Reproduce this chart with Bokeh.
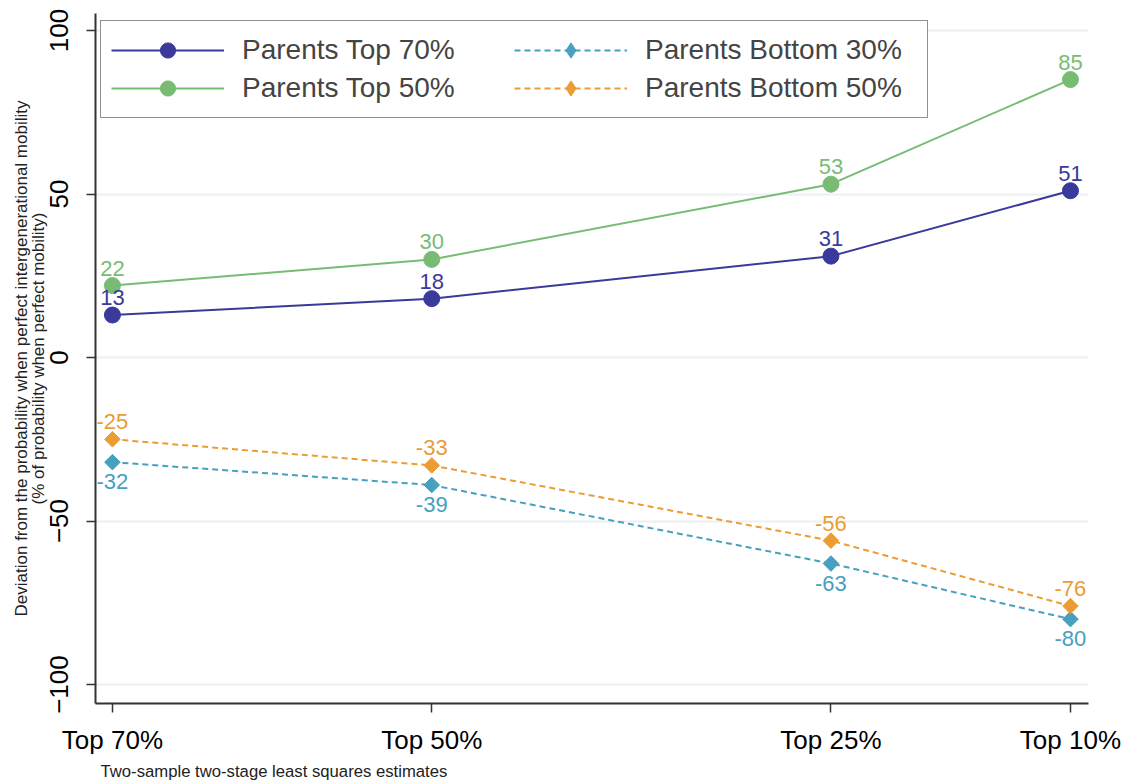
from bokeh.plotting import figure
from bokeh.models import (ColumnDataSource, Range1d, FixedTicker, LabelSet, Legend,
                          LegendItem, Title)
from bokeh.core.properties import value
from bokeh.embed import file_html
from bokeh.resources import INLINE
import math

# ---- data ----
x_groups = [70, 50, 25, 10]
x_labels = ["Top 70%", "Top 50%", "Top 25%", "Top 10%"]
top70 = [13, 18, 31, 51]
top50 = [22, 30, 53, 85]
bottom30 = [-32, -39, -63, -80]
bottom50 = [-25, -33, -56, -76]
y_ticks = [-100, -50, 0, 50, 100]

FONT = "Liberation Sans"
NAVY = "#3a3a9c"
GREEN = "#78bc74"
TEAL = "#47a0bf"
ORANGE = "#eb9c33"

p = figure(width=1129, height=782, output_backend="svg", toolbar_location=None,
           x_range=Range1d(71.06, 8.87), y_range=Range1d(-105.8, 105.2),
           min_border_left=95, min_border_right=41, min_border_top=13, min_border_bottom=79)
p.outline_line_color = None
p.background_fill_color = "white"
p.border_fill_color = "white"

# axes
p.xaxis.ticker = FixedTicker(ticks=x_groups)
p.xaxis.major_label_overrides = {v: l for v, l in zip(x_groups, x_labels)}
p.yaxis.ticker = FixedTicker(ticks=y_ticks)
for ax in (p.xaxis[0], p.yaxis[0]):
    ax.axis_line_color = "#333333"
    ax.axis_line_width = 2
    ax.major_tick_line_color = "#333333"
    ax.major_tick_line_width = 1.5
    ax.major_tick_out = 9
    ax.major_tick_in = 0
    ax.minor_tick_line_color = None
    ax.major_label_text_font = FONT
    ax.major_label_text_font_size = "26px"
    ax.major_label_text_color = "black"
    ax.axis_label_text_font = FONT
    ax.axis_label_text_font_style = "normal"
    ax.axis_label_text_color = "#222222"
p.yaxis.major_label_orientation = "vertical"
p.yaxis.major_label_standoff = 18
p.xaxis.major_label_standoff = 12
p.yaxis.axis_label = ("Deviation from the probability when perfect intergenerational mobility\n"
                      "(% of probability when perfect mobility)")
p.yaxis.axis_label_text_font_size = "17px"
p.yaxis.axis_label_text_line_height = 0.87
p.yaxis.axis_label_standoff = 0

p.xgrid.grid_line_color = None
p.ygrid.grid_line_color = "#edf0f2"
p.ygrid.grid_line_width = 2

p.add_layout(Title(text="Two-sample two-stage least squares estimates", align="left",
                   text_font=FONT, text_font_size="16.7px", text_font_style="normal",
                   text_color="#222222", offset=5, standoff=4), "below")

src = ColumnDataSource(dict(x=x_groups, top70=top70, top50=top50,
                            bottom30=bottom30, bottom50=bottom50,
                            l70=[str(v) for v in top70], l50=[str(v) for v in top50],
                            lb30=[str(v) for v in bottom30], lb50=[str(v) for v in bottom50]))

series = [
    ("Parents Top 70%", "top70", "l70", NAVY, "solid", "circle", 1),
    ("Parents Top 50%", "top50", "l50", GREEN, "solid", "circle", 1),
    ("Parents Bottom 30%", "bottom30", "lb30", TEAL, "6 4", "diamond", -1),
    ("Parents Bottom 50%", "bottom50", "lb50", ORANGE, "6 4", "diamond", 1),
]
nan = float("nan")
items = {}
for name, col, lcol, color, dash, marker, side in series:
    ln = p.line("x", col, source=src, line_color=color, line_width=2, line_dash=dash)
    if marker == "circle":
        sc = p.scatter("x", col, source=src, marker="circle", size=16,
                       fill_color=color, line_color=color)
        items[name] = [ln, sc]
    else:
        p.scatter("x", col, source=src, marker="square", size=11, angle=math.pi / 4,
                  fill_color=color, line_color=color)
        # legend-only diamond glyph (no data)
        dm = p.scatter(x=[nan], y=[nan], marker="diamond", size=16,
                       fill_color=color, line_color=color)
        items[name] = [ln, dm]
    lbl = LabelSet(x="x", y=col, text=lcol, source=src, text_align="center",
                   text_baseline="bottom" if side > 0 else "top",
                   y_offset=10 if side > 0 else -12,
                   text_font=value(FONT), text_font_size=value("22px"), text_color=color)
    p.add_layout(lbl)

legend = Legend(items=[LegendItem(label=n, renderers=items[n]) for n in
                       ["Parents Top 70%", "Parents Top 50%", "Parents Bottom 30%", "Parents Bottom 50%"]],
                location=(5, 585), ncols=2, orientation="vertical",
                label_text_font=FONT, label_text_font_size="28px",
                glyph_width=113, glyph_height=38, label_standoff=18, label_width=272,
                spacing=0, padding=10, margin=0,
                border_line_color="#222222", border_line_width=1.5,
                background_fill_alpha=1.0)
p.add_layout(legend)

open("out.html", "w").write(file_html(p, INLINE))
